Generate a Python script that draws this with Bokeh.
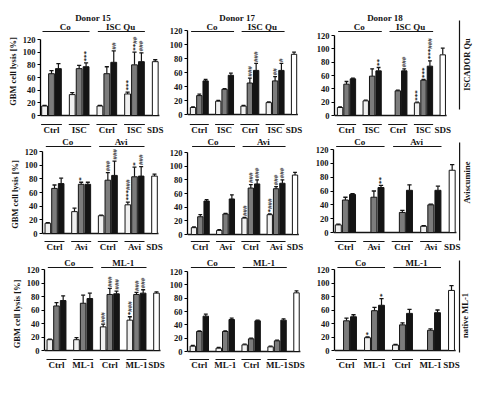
import math
from bokeh.plotting import figure
from bokeh.layouts import row, column
from bokeh.models import Range1d, ColumnDataSource, SingleIntervalTicker
from bokeh.core.properties import value
from bokeh.embed import file_html
from bokeh.resources import INLINE

FONT = "Liberation Serif"

# ---------------- data (panels row-major: Donor15/17/18 x ISC Qu / Avi / ML-1) ----
donors = ["Donor 15", "Donor 17", "Donor 18"]
treatments = ["ISC Qu", "Avi", "ML-1"]
row_titles = ["ISCADOR Qu", "Aviscumine", "native ML-1"]
group_labels = [["Ctrl", "ISC", "Ctrl", "ISC", "SDS"],
                ["Ctrl", "Avi", "Ctrl", "Avi", "SDS"],
                ["Ctrl", "ML-1", "Ctrl", "ML-1", "SDS"]]

light = [[15, 33, 15, 34], [10, 19, 12, 17], [12, 22, 0, 19],
         [15, 32, 26, 42], [10, 6, 24, 29], [11, 0, 0, 9],
         [16, 16, 35, 45], [8, 5, 10, 7], [0, 19, 8, 0]]
light_err = [[1, 3, 1, 3], [1, 1, 1, 1], [1, 1, 0, 1],
             [1, 5, 1, 4], [1, 1, 1, 1], [1, 0, 0, 1],
             [1, 3, 4, 5], [1, 1, 1, 1], [0, 1, 1, 0]]
gray = [[66, 74, 66, 80], [27, 36, 45, 48], [47, 59, 37, 53],
        [66, 72, 78, 83], [26, 30, 68, 67], [47, 51, 29, 40],
        [66, 70, 83, 83], [30, 30, 19, 16], [44, 59, 38, 30]]
gray_err = [[5, 5, 11, 20], [2, 1, 7, 6], [4, 11, 1, 1],
            [5, 3, 11, 14], [3, 1, 5, 3], [4, 9, 3, 1],
            [5, 12, 9, 3], [1, 1, 1, 1], [4, 5, 3, 2]]
black = [[74, 77, 84, 85], [48, 56, 63, 63], [55, 67, 67, 74],
         [73, 72, 85, 84], [49, 52, 74, 75], [55, 65, 61, 61],
         [74, 77, 84, 85], [53, 48, 46, 47], [50, 67, 55, 56]]
black_err = [[8, 6, 18, 14], [2, 3, 10, 10], [1, 5, 3, 8],
             [8, 3, 21, 14], [2, 6, 6, 5], [1, 3, 8, 6],
             [7, 8, 4, 5], [3, 2, 1, 2], [3, 10, 6, 4]]
sds = [85, 86, 91, 84, 87, 90, 85, 88, 89]
sds_err = [3, 3, 10, 3, 4, 8, 2, 3, 7]

# significance marks: (panel, group, bar, text)
marks = [(0, 1, 2, "***"), (0, 2, 2, "##"), (0, 3, 0, "***"), (0, 3, 1, "**##"), (0, 3, 2, "###"),
         (1, 2, 1, "###"), (1, 2, 2, "###"), (1, 3, 1, "##"), (1, 3, 2, "#"),
         (2, 1, 2, "**"), (2, 2, 2, "###"), (2, 3, 0, "***"), (2, 3, 1, "***"), (2, 3, 2, "***###"),
         (3, 1, 1, "*"), (3, 2, 1, "###"), (3, 2, 2, "###"), (3, 3, 0, "***###"), (3, 3, 1, "*"), (3, 3, 2, "###"),
         (4, 2, 0, "###"), (4, 2, 1, "###"), (4, 2, 2, "###"), (4, 3, 0, "*###"), (4, 3, 1, "###"), (4, 3, 2, "###"),
         (5, 1, 2, "**"),
         (6, 2, 0, "###"), (6, 2, 1, "###"), (6, 2, 2, "###"), (6, 3, 0, "*###"), (6, 3, 1, "###"), (6, 3, 2, "###"),
         (8, 1, 0, "*"), (8, 1, 2, "*")]

# ---------------- layout (reference pixel geometry) ----------------
geom = [dict(ax=48, g1=59, g4=142, y120=47, y0=123),
        dict(ax=193, g1=205, g4=282, y120=38, y0=122),
        dict(ax=342, g1=354, g4=431, y120=43, y0=123),
        dict(ax=50, g1=62, g4=142, y120=159, y0=241),
        dict(ax=193, g1=206, g4=283, y120=160, y0=242),
        dict(ax=340, g1=352, g4=438, y120=157, y0=240),
        dict(ax=52, g1=64, g4=144, y120=277, y0=358),
        dict(ax=193, g1=205, g4=284, y120=279, y0=359),
        dict(ax=342, g1=354, g4=438, y120=277, y0=358)]
col_bounds = [8, 174, 320, 484]
row_fig_top = [8, 142, 262]
row_frame_top = [16, 142, 262]
row_frame_bot = [142, 262, 381]
row_text = [dict(title=25, head=34, hline=39, lline=132, ltext=137, vt=28, vb=117, vc=72),
            dict(head=149, hline=154, lline=249, ltext=254, vt=150, vb=248, vc=190),
            dict(head=270, hline=275, lline=367, ltext=372, vt=268, vb=360, vc=323)]
right_x = [474, 474, 472]
vline_x = 467

BLACK = "#141414"
fills = ["#f0f0f0", "#7c7c7c", BLACK]
BW = 0.84


def make_panel(r, c):
    i = r * 3 + c
    g = geom[i]
    u = (g["g4"] - g["g1"]) / 12.0
    k = (g["y0"] - g["y120"]) / 120.0

    def xd(px):
        return 1 + (px - g["g1"]) / u

    def yd(py):
        return (g["y0"] - py) / k

    lb, rb = col_bounds[c], col_bounds[c + 1]
    frame_r = rb
    ft, fb = row_frame_top[r], row_frame_bot[r]
    p = figure(width=rb - lb, height=fb - row_fig_top[r],
               x_range=Range1d(xd(g["ax"]), xd(frame_r)),
               y_range=Range1d(yd(fb), yd(ft)),
               x_axis_type=None, output_backend="svg", toolbar_location=None,
               title=None, min_border_left=g["ax"] - lb,
               min_border_right=0,
               min_border_top=ft - row_fig_top[r], min_border_bottom=0,
               outline_line_color=None, background_fill_color="white",
               border_fill_color="white")
    p.grid.visible = False

    ax = p.yaxis[0]
    ax.bounds = (0, 120)
    ax.ticker = SingleIntervalTicker(interval=20, num_minor_ticks=0)
    ax.major_tick_in = 0
    ax.major_tick_out = 3
    ax.minor_tick_out = 0
    ax.minor_tick_in = 0
    ax.axis_line_width = 1.3
    ax.major_tick_line_width = 1.2
    ax.major_label_standoff = 2
    ax.major_label_text_font = FONT
    ax.major_label_text_font_style = "bold"
    ax.major_label_text_font_size = "8.5px"
    ax.major_label_text_color = BLACK
    if c == 0:
        ax.axis_label = "GBM cell lysis [%]"
        ax.axis_label_text_font = FONT
        ax.axis_label_text_font_style = "bold"
        ax.axis_label_text_font_size = "8.5px"
        ax.axis_label_standoff = 2
        ax.axis_label_text_color = BLACK

    sds_x = 16
    # baseline
    p.segment(x0=[xd(g["ax"])], y0=[0], x1=[sds_x + 0.6], y1=[0], line_color=BLACK, line_width=1.3)

    series = [(light[i], light_err[i]), (gray[i], gray_err[i]), (black[i], black_err[i])]
    for b, (vals, errs) in enumerate(series):
        xs, tops, es = [], [], []
        for j in range(4):
            if vals[j] > 0:
                xs.append(1 + 4 * j + (b - 1))
                tops.append(vals[j])
                es.append(errs[j])
        src = ColumnDataSource(dict(x=xs, top=tops, up=[t + e for t, e in zip(tops, es)],
                                    cl=[x - 0.3 for x in xs], cr=[x + 0.3 for x in xs]))
        p.segment(x0="x", y0="top", x1="x", y1="up", source=src, line_color=BLACK, line_width=1.2)
        p.segment(x0="cl", y0="up", x1="cr", y1="up", source=src, line_color=BLACK, line_width=1.3)
        p.vbar(x="x", top="top", bottom=0, width=BW, source=src, fill_color=fills[b],
               line_color=BLACK, line_width=1)
    ssrc = ColumnDataSource(dict(x=[sds_x], top=[sds[i]], up=[sds[i] + sds_err[i]],
                                 cl=[sds_x - 0.3], cr=[sds_x + 0.3]))
    p.segment(x0="x", y0="top", x1="x", y1="up", source=ssrc, line_color=BLACK, line_width=1.2)
    p.segment(x0="cl", y0="up", x1="cr", y1="up", source=ssrc, line_color=BLACK, line_width=1.3)
    p.vbar(x="x", top="top", bottom=0, width=BW, source=ssrc, fill_color="white",
           line_color=BLACK, line_width=1)

    # significance marks
    mx, my, mt = [], [], []
    allv = [light[i], gray[i], black[i]]
    alle = [light_err[i], gray_err[i], black_err[i]]
    for (pi, gj, bb, txt) in marks:
        if pi != i:
            continue
        mx.append(1 + 4 * gj + (bb - 1))
        my.append(allv[bb][gj] + alle[bb][gj] + 1.5 / k)
        mt.append(txt)
    if mx:
        p.text(x=mx, y=my, text=mt, angle=math.pi / 2, text_align="left", text_baseline="middle",
               text_font=value(FONT), text_font_style="bold", text_font_size="7px", text_color=BLACK)

    rt = row_text[r]
    tf = dict(text_font=value(FONT), text_font_style="bold", text_font_size="9px",
              text_align="center", text_baseline="middle", text_color=BLACK)
    # header
    p.text(x=[3, 11], y=[yd(rt["head"])] * 2, text=["Co", treatments[r]], **tf)
    p.segment(x0=[1 - 1.3, 9 - 1.3], y0=[yd(rt["hline"])] * 2, x1=[5 + 1.5, 13 + 1.5],
              y1=[yd(rt["hline"])] * 2, line_color=BLACK, line_width=1.2)
    if r == 0:
        p.text(x=[7], y=[yd(rt["title"])], text=[donors[c]], **tf)
    # group labels
    gx = [1, 5, 9, 13, sds_x]
    p.text(x=gx, y=[yd(rt["ltext"])] * 5, text=group_labels[r], **tf)
    p.segment(x0=[x - 1.5 for x in gx[:4]], y0=[yd(rt["lline"])] * 4,
              x1=[x + 1.5 for x in gx[:4]], y1=[yd(rt["lline"])] * 4,
              line_color=BLACK, line_width=1.2)
    if c == 2:
        p.segment(x0=[xd(vline_x)], y0=[yd(rt["vt"])], x1=[xd(vline_x)], y1=[yd(rt["vb"])],
                  line_color=BLACK, line_width=1.2)
        p.text(x=[xd(right_x[r])], y=[yd(rt["vc"])], text=[row_titles[r]], angle=math.pi / 2,
               text_font=value(FONT), text_font_style="bold", text_font_size="8.5px",
               text_align="center", text_baseline="middle", text_color=BLACK)
    return p


rows = [row([make_panel(r, c) for c in range(3)], spacing=0) for r in range(3)]
layout = column(rows, spacing=0)
open("out.html", "w").write(file_html(layout, INLINE))
